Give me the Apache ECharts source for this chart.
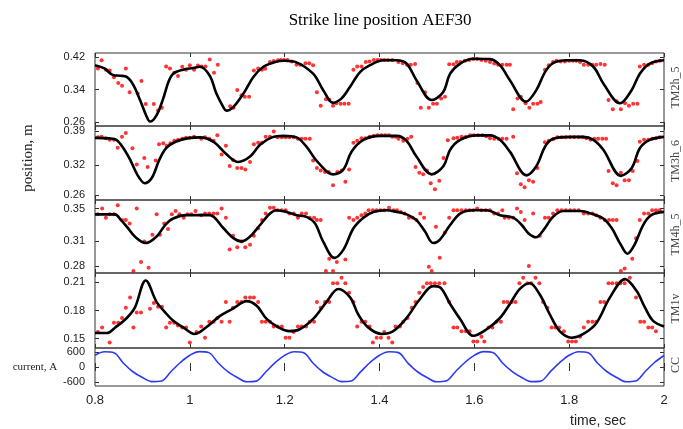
<!DOCTYPE html>
<html>
<head>
<meta charset="utf-8">
<script src="https://cdn.jsdelivr.net/npm/echarts@6/dist/echarts.min.js"></script>
<style>
  html, body { margin: 0; padding: 0; background: #fff; }
  #main { width: 683px; height: 429px; }
</style>
</head>
<body>
<div id="main"></div>
<script>
// ---- data: [time, value] ----
var tm2hFit = [[0.80,0.400],[0.82,0.392],[0.839,0.375],[0.853,0.374],[0.867,0.371],[0.881,0.351],[0.895,0.314],[0.909,0.273],[0.916,0.261],[0.930,0.277],[0.944,0.318],[0.955,0.359],[0.965,0.379],[0.986,0.389],[1.007,0.393],[1.021,0.396],[1.042,0.374],[1.056,0.330],[1.070,0.298],[1.077,0.288],[1.091,0.296],[1.113,0.330],[1.134,0.371],[1.155,0.396],[1.18,0.408],[1.20,0.411],[1.225,0.407],[1.26,0.379],[1.281,0.339],[1.302,0.307],[1.32,0.318],[1.338,0.347],[1.359,0.383],[1.38,0.400],[1.408,0.412],[1.436,0.412],[1.457,0.404],[1.478,0.363],[1.51,0.314],[1.534,0.333],[1.549,0.379],[1.57,0.404],[1.598,0.416],[1.633,0.415],[1.654,0.400],[1.675,0.363],[1.709,0.310],[1.731,0.339],[1.749,0.383],[1.766,0.405],[1.795,0.412],[1.823,0.412],[1.851,0.396],[1.872,0.355],[1.907,0.306],[1.932,0.339],[1.949,0.379],[1.97,0.404],[2.00,0.412]];
var tm2hPts = [[0.806,0.392],[0.814,0.412],[0.823,0.389],[0.831,0.387],[0.840,0.370],[0.849,0.356],[0.857,0.349],[0.865,0.392],[0.873,0.333],[0.890,0.330],[0.898,0.361],[0.907,0.304],[0.924,0.304],[0.933,0.288],[0.941,0.295],[0.950,0.397],[0.958,0.392],[0.967,0.381],[0.975,0.373],[0.984,0.396],[0.992,0.389],[1.000,0.400],[1.009,0.389],[1.017,0.399],[1.025,0.397],[1.033,0.397],[1.042,0.414],[1.051,0.381],[1.059,0.401],[1.085,0.299],[1.092,0.295],[1.100,0.339],[1.109,0.326],[1.116,0.322],[1.125,0.322],[1.135,0.387],[1.144,0.392],[1.152,0.389],[1.159,0.391],[1.169,0.408],[1.177,0.410],[1.186,0.412],[1.192,0.413],[1.199,0.413],[1.206,0.413],[1.215,0.409],[1.225,0.401],[1.233,0.401],[1.244,0.405],[1.252,0.405],[1.260,0.400],[1.268,0.333],[1.276,0.300],[1.287,0.316],[1.294,0.315],[1.302,0.300],[1.309,0.306],[1.318,0.305],[1.326,0.305],[1.335,0.305],[1.345,0.389],[1.353,0.397],[1.362,0.397],[1.371,0.408],[1.379,0.409],[1.388,0.413],[1.396,0.413],[1.403,0.413],[1.410,0.413],[1.418,0.413],[1.427,0.413],[1.440,0.408],[1.449,0.405],[1.458,0.401],[1.466,0.401],[1.475,0.403],[1.480,0.356],[1.487,0.295],[1.496,0.333],[1.504,0.295],[1.513,0.305],[1.521,0.305],[1.530,0.318],[1.538,0.322],[1.547,0.402],[1.556,0.402],[1.563,0.408],[1.571,0.408],[1.580,0.411],[1.589,0.413],[1.598,0.415],[1.606,0.415],[1.615,0.413],[1.624,0.411],[1.633,0.408],[1.642,0.404],[1.650,0.401],[1.659,0.401],[1.668,0.401],[1.675,0.401],[1.682,0.291],[1.691,0.318],[1.698,0.322],[1.708,0.306],[1.716,0.295],[1.724,0.305],[1.733,0.305],[1.740,0.309],[1.749,0.389],[1.757,0.400],[1.766,0.408],[1.773,0.411],[1.782,0.409],[1.791,0.409],[1.800,0.411],[1.808,0.411],[1.815,0.411],[1.823,0.408],[1.831,0.401],[1.840,0.401],[1.849,0.401],[1.857,0.401],[1.866,0.403],[1.875,0.401],[1.883,0.314],[1.892,0.291],[1.900,0.311],[1.909,0.291],[1.918,0.306],[1.926,0.300],[1.935,0.305],[1.944,0.305],[1.949,0.397],[1.958,0.401],[1.967,0.401],[1.975,0.405],[1.983,0.409],[1.991,0.411]];

var tm3hFit = [[0.80,0.376],[0.83,0.375],[0.845,0.372],[0.86,0.355],[0.875,0.330],[0.89,0.300],[0.905,0.284],[0.92,0.295],[0.935,0.330],[0.95,0.355],[0.97,0.368],[1.00,0.376],[1.021,0.377],[1.05,0.368],[1.078,0.342],[1.102,0.327],[1.127,0.338],[1.148,0.362],[1.173,0.377],[1.197,0.380],[1.225,0.377],[1.246,0.358],[1.268,0.329],[1.302,0.302],[1.324,0.312],[1.341,0.348],[1.366,0.372],[1.401,0.380],[1.436,0.380],[1.457,0.370],[1.478,0.338],[1.51,0.302],[1.535,0.319],[1.549,0.352],[1.57,0.372],[1.605,0.381],[1.633,0.381],[1.654,0.372],[1.675,0.348],[1.71,0.300],[1.731,0.319],[1.749,0.358],[1.766,0.374],[1.802,0.378],[1.83,0.378],[1.851,0.372],[1.872,0.352],[1.909,0.299],[1.932,0.315],[1.949,0.355],[1.97,0.372],[2.00,0.378]];
var tm3hPts = [[0.806,0.377],[0.814,0.378],[0.823,0.375],[0.831,0.372],[0.840,0.372],[0.848,0.356],[0.857,0.378],[0.865,0.386],[0.879,0.355],[0.888,0.322],[0.904,0.335],[0.911,0.317],[0.928,0.330],[0.935,0.363],[0.944,0.365],[0.951,0.360],[0.959,0.365],[0.967,0.370],[0.975,0.372],[0.984,0.374],[0.992,0.376],[1.000,0.376],[1.009,0.378],[1.024,0.374],[1.032,0.377],[1.041,0.374],[1.050,0.370],[1.058,0.381],[1.067,0.342],[1.076,0.360],[1.084,0.319],[1.091,0.331],[1.100,0.315],[1.109,0.315],[1.117,0.312],[1.127,0.327],[1.135,0.363],[1.144,0.366],[1.152,0.366],[1.160,0.378],[1.169,0.378],[1.177,0.389],[1.185,0.377],[1.194,0.377],[1.202,0.377],[1.210,0.377],[1.219,0.377],[1.228,0.374],[1.236,0.374],[1.244,0.374],[1.253,0.374],[1.260,0.330],[1.268,0.315],[1.276,0.310],[1.285,0.307],[1.293,0.307],[1.302,0.280],[1.311,0.307],[1.320,0.310],[1.328,0.287],[1.336,0.312],[1.345,0.366],[1.353,0.370],[1.362,0.375],[1.370,0.375],[1.379,0.378],[1.388,0.380],[1.396,0.381],[1.404,0.381],[1.412,0.381],[1.420,0.381],[1.427,0.378],[1.434,0.378],[1.440,0.374],[1.450,0.370],[1.459,0.374],[1.467,0.378],[1.476,0.317],[1.484,0.305],[1.492,0.302],[1.500,0.310],[1.508,0.284],[1.517,0.272],[1.526,0.289],[1.535,0.335],[1.544,0.371],[1.556,0.375],[1.564,0.376],[1.573,0.378],[1.582,0.378],[1.591,0.381],[1.599,0.381],[1.608,0.381],[1.617,0.381],[1.625,0.379],[1.633,0.375],[1.642,0.374],[1.651,0.374],[1.659,0.374],[1.668,0.374],[1.682,0.378],[1.690,0.304],[1.698,0.282],[1.706,0.276],[1.715,0.290],[1.724,0.287],[1.733,0.315],[1.749,0.367],[1.757,0.370],[1.766,0.373],[1.775,0.377],[1.784,0.377],[1.793,0.377],[1.802,0.377],[1.811,0.377],[1.820,0.377],[1.828,0.377],[1.836,0.375],[1.845,0.372],[1.853,0.374],[1.861,0.374],[1.870,0.374],[1.878,0.374],[1.883,0.309],[1.892,0.284],[1.900,0.280],[1.909,0.305],[1.917,0.290],[1.926,0.290],[1.934,0.309],[1.944,0.329],[1.949,0.368],[1.958,0.372],[1.967,0.372],[1.975,0.374],[1.983,0.375],[1.991,0.377]];

var tm4hFit = [[0.80,0.343],[0.842,0.343],[0.855,0.336],[0.867,0.328],[0.884,0.316],[0.907,0.308],[0.93,0.316],[0.948,0.330],[0.965,0.338],[0.993,0.342],[1.021,0.342],[1.042,0.342],[1.071,0.326],[1.092,0.314],[1.109,0.310],[1.127,0.316],[1.148,0.330],[1.169,0.344],[1.183,0.348],[1.204,0.346],[1.225,0.342],[1.246,0.340],[1.264,0.332],[1.281,0.310],[1.305,0.290],[1.324,0.300],[1.345,0.326],[1.366,0.339],[1.387,0.346],[1.415,0.348],[1.436,0.346],[1.457,0.343],[1.478,0.336],[1.496,0.322],[1.513,0.308],[1.527,0.312],[1.549,0.330],[1.57,0.344],[1.598,0.348],[1.626,0.348],[1.654,0.342],[1.682,0.339],[1.70,0.330],[1.714,0.320],[1.73,0.315],[1.746,0.324],[1.766,0.340],[1.788,0.347],[1.823,0.347],[1.851,0.343],[1.872,0.338],[1.89,0.326],[1.907,0.308],[1.923,0.295],[1.938,0.306],[1.956,0.330],[1.973,0.342],[2.00,0.346]];
var tm4hPts = [[0.806,0.343],[0.815,0.350],[0.823,0.339],[0.831,0.343],[0.840,0.343],[0.848,0.354],[0.857,0.336],[0.865,0.336],[0.873,0.332],[0.881,0.274],[0.888,0.350],[0.897,0.285],[0.904,0.310],[0.913,0.278],[0.921,0.318],[0.930,0.343],[0.937,0.318],[0.946,0.332],[0.954,0.325],[0.962,0.343],[0.970,0.347],[0.978,0.343],[0.987,0.339],[0.995,0.343],[1.003,0.343],[1.012,0.347],[1.024,0.342],[1.032,0.344],[1.041,0.344],[1.050,0.344],[1.058,0.344],[1.067,0.350],[1.076,0.339],[1.084,0.300],[1.091,0.317],[1.100,0.303],[1.109,0.310],[1.117,0.303],[1.127,0.306],[1.135,0.317],[1.144,0.326],[1.152,0.336],[1.160,0.344],[1.169,0.351],[1.177,0.351],[1.185,0.348],[1.194,0.348],[1.202,0.348],[1.210,0.344],[1.219,0.344],[1.228,0.339],[1.236,0.344],[1.245,0.344],[1.253,0.339],[1.262,0.339],[1.268,0.336],[1.276,0.336],[1.287,0.274],[1.294,0.289],[1.302,0.274],[1.310,0.285],[1.328,0.288],[1.336,0.339],[1.345,0.336],[1.353,0.339],[1.362,0.342],[1.370,0.344],[1.377,0.348],[1.386,0.348],[1.394,0.348],[1.402,0.348],[1.410,0.348],[1.420,0.351],[1.430,0.348],[1.437,0.348],[1.445,0.346],[1.453,0.344],[1.462,0.339],[1.470,0.339],[1.478,0.336],[1.486,0.344],[1.494,0.339],[1.504,0.279],[1.510,0.274],[1.519,0.328],[1.527,0.290],[1.538,0.321],[1.547,0.339],[1.556,0.348],[1.564,0.348],[1.573,0.348],[1.582,0.348],[1.590,0.348],[1.598,0.348],[1.606,0.350],[1.615,0.348],[1.624,0.348],[1.633,0.348],[1.642,0.344],[1.650,0.344],[1.659,0.348],[1.664,0.339],[1.673,0.339],[1.682,0.339],[1.690,0.350],[1.698,0.346],[1.706,0.336],[1.715,0.280],[1.724,0.344],[1.738,0.317],[1.749,0.339],[1.757,0.339],[1.766,0.344],[1.775,0.348],[1.784,0.348],[1.793,0.348],[1.802,0.348],[1.811,0.348],[1.820,0.348],[1.831,0.344],[1.840,0.344],[1.849,0.344],[1.857,0.342],[1.866,0.339],[1.875,0.336],[1.884,0.336],[1.892,0.336],[1.900,0.336],[1.909,0.274],[1.917,0.277],[1.933,0.289],[1.941,0.314],[1.949,0.336],[1.958,0.344],[1.967,0.344],[1.975,0.348],[1.983,0.348],[1.991,0.348]];

var tm1vFit = [[0.80,0.156],[0.825,0.156],[0.843,0.162],[0.867,0.172],[0.884,0.183],[0.907,0.212],[0.93,0.189],[0.948,0.178],[0.965,0.169],[0.986,0.162],[1.01,0.155],[1.021,0.157],[1.042,0.165],[1.063,0.174],[1.091,0.182],[1.12,0.190],[1.141,0.185],[1.162,0.171],[1.187,0.162],[1.21,0.158],[1.232,0.160],[1.26,0.171],[1.288,0.189],[1.313,0.203],[1.338,0.194],[1.355,0.176],[1.376,0.162],[1.405,0.155],[1.429,0.158],[1.457,0.172],[1.485,0.192],[1.513,0.206],[1.527,0.205],[1.549,0.187],[1.57,0.171],[1.598,0.153],[1.626,0.160],[1.654,0.172],[1.675,0.187],[1.696,0.203],[1.717,0.209],[1.738,0.197],[1.759,0.176],[1.78,0.158],[1.805,0.151],[1.83,0.155],[1.858,0.167],[1.886,0.194],[1.918,0.2135],[1.942,0.201],[1.96,0.183],[1.977,0.169],[2.00,0.163]];
var tm1vPts = [[0.806,0.157],[0.815,0.162],[0.831,0.146],[0.840,0.167],[0.849,0.167],[0.857,0.172],[0.865,0.183],[0.874,0.194],[0.881,0.162],[0.888,0.178],[0.897,0.178],[0.916,0.182],[0.924,0.188],[0.933,0.184],[0.941,0.184],[0.950,0.162],[0.958,0.167],[0.967,0.167],[0.975,0.164],[0.984,0.162],[0.992,0.162],[1.000,0.146],[1.014,0.157],[1.024,0.163],[1.032,0.151],[1.041,0.168],[1.050,0.168],[1.058,0.172],[1.067,0.168],[1.076,0.189],[1.084,0.168],[1.091,0.183],[1.100,0.189],[1.109,0.189],[1.117,0.194],[1.127,0.194],[1.135,0.194],[1.144,0.189],[1.152,0.168],[1.160,0.168],[1.169,0.168],[1.177,0.163],[1.185,0.163],[1.194,0.163],[1.202,0.151],[1.210,0.151],[1.219,0.157],[1.228,0.163],[1.236,0.163],[1.245,0.163],[1.253,0.168],[1.262,0.168],[1.268,0.189],[1.276,0.183],[1.285,0.189],[1.294,0.189],[1.302,0.209],[1.311,0.209],[1.320,0.215],[1.328,0.209],[1.336,0.199],[1.345,0.189],[1.353,0.163],[1.362,0.168],[1.370,0.168],[1.379,0.163],[1.386,0.146],[1.394,0.151],[1.403,0.151],[1.410,0.157],[1.419,0.151],[1.427,0.146],[1.434,0.163],[1.443,0.163],[1.450,0.168],[1.459,0.172],[1.468,0.183],[1.476,0.189],[1.484,0.199],[1.492,0.205],[1.500,0.209],[1.508,0.209],[1.517,0.209],[1.526,0.209],[1.537,0.209],[1.547,0.189],[1.556,0.162],[1.564,0.162],[1.573,0.158],[1.582,0.158],[1.590,0.158],[1.598,0.147],[1.606,0.147],[1.615,0.152],[1.621,0.147],[1.630,0.162],[1.638,0.162],[1.647,0.168],[1.656,0.168],[1.662,0.189],[1.670,0.189],[1.679,0.189],[1.687,0.189],[1.695,0.209],[1.703,0.215],[1.712,0.209],[1.720,0.209],[1.729,0.215],[1.737,0.209],[1.745,0.189],[1.754,0.183],[1.763,0.162],[1.771,0.162],[1.779,0.162],[1.789,0.158],[1.798,0.147],[1.806,0.147],[1.814,0.147],[1.823,0.152],[1.831,0.162],[1.840,0.168],[1.849,0.168],[1.857,0.168],[1.866,0.189],[1.874,0.189],[1.883,0.209],[1.891,0.209],[1.900,0.209],[1.908,0.209],[1.917,0.209],[1.928,0.215],[1.941,0.194],[1.950,0.168],[1.958,0.168],[1.967,0.162],[1.975,0.162],[1.983,0.158]];

// coil current, sampled every 0.02 s from 0.80 to 2.00
var ccTime = [];
for (var k = 0; k <= 60; k++) ccTime.push(+(0.8 + k * 0.02).toFixed(2));
var ccValues = [
  470, 610, 570, 150, -190, -420, -585, -560, -190, 180,
  470, 615, 575, 160, -185, -420, -590, -565, -200, 175,
  465, 610, 570, 150, -190, -415, -585, -560, -195, 180,
  470, 610, 575, 155, -190, -420, -590, -560, -190, 180,
  465, 615, 570, 150, -185, -420, -585, -565, -195, 175,
  470, 610, 570, 150, -190, -420, -590, -560, -190, 180,
  460
];

var panelNames = ['TM2h_5', 'TM3h_6', 'TM4h_5', 'TM1v', 'CC'];
var yMins = [0.25, 0.25, 0.2715, 0.14, -760];
var yMaxs = [0.43, 0.40, 0.3605, 0.22, 760];
var yTicks = [[0.26, 0.34, 0.42], [0.26, 0.32, 0.39], [0.28, 0.31, 0.35], [0.15, 0.18, 0.21], [-600, 0, 600]];

// ---- layout ----
var panelTop = [53, 126, 200, 273, 348];
var panelHeight = [73, 74, 73, 75, 38];
var plotLeft = 95, plotRight = 19;

var chart = echarts.init(document.getElementById('main'));

var sansFont = 'Liberation Sans, Arial, sans-serif';
var serifFont = 'Liberation Serif, Times New Roman, serif';
var inkColor = '#333';

var grids = [], xAxes = [], yAxes = [], series = [], graphics = [];

function makeX(i, pos, showLabel) {
  return {
    type: 'value', gridIndex: i, position: pos,
    min: 0.8, max: 2, interval: 0.2,
    axisLine: { show: false },
    axisTick: { inside: true, length: 4, lineStyle: { color: inkColor } },
    axisLabel: { show: showLabel, color: '#222', fontSize: 13, fontFamily: sansFont, margin: 8 },
    splitLine: { show: false }
  };
}

function makeY(i, pos, showLabel) {
  return {
    type: 'value', gridIndex: i, position: pos,
    min: yMins[i], max: yMaxs[i],
    axisLine: { show: false },
    axisTick: { inside: true, length: 4, customValues: yTicks[i], lineStyle: { color: inkColor } },
    axisLabel: { show: showLabel, customValues: yTicks[i], color: '#222', fontSize: 11, fontFamily: sansFont, margin: 10 },
    splitLine: { show: false }
  };
}

for (var i = 0; i < panelNames.length; i++) {
  grids.push({
    left: plotLeft, right: plotRight, top: panelTop[i], height: panelHeight[i],
    show: true, borderColor: inkColor, borderWidth: 1
  });
  xAxes.push(makeX(i, 'bottom', i === panelNames.length - 1));
  xAxes.push(makeX(i, 'top', false));
  yAxes.push(makeY(i, 'left', true));
  yAxes.push(makeY(i, 'right', false));

  // panel name on the right, reading upwards
  graphics.push({
    type: 'text', x: 676, y: panelTop[i] + panelHeight[i] / 2 - 2, rotation: Math.PI / 2,
    style: { text: panelNames[i], fill: '#444', font: '12px ' + serifFont, textAlign: 'center', textVerticalAlign: 'middle' }
  });
}

var fits = [tm2hFit, tm3hFit, tm4hFit, tm1vFit];
var pts = [tm2hPts, tm3hPts, tm4hPts, tm1vPts];
for (var j = 0; j < 4; j++) {
  series.push({
    type: 'line', xAxisIndex: 2 * j, yAxisIndex: 2 * j,
    data: fits[j], symbol: 'none', smooth: 0.35,
    lineStyle: { color: '#000', width: 2.6 }
  });
  series.push({
    type: 'scatter', xAxisIndex: 2 * j, yAxisIndex: 2 * j,
    data: pts[j], symbolSize: 4,
    itemStyle: { color: '#ff0000' }
  });
}
series.push({
  type: 'line', xAxisIndex: 8, yAxisIndex: 8,
  data: ccTime.map(function (t, n) { return [t, ccValues[n]]; }),
  symbol: 'none', smooth: 0.35,
  lineStyle: { color: '#2b3bf5', width: 1.6 }
});

graphics.push(
  {
    type: 'text', x: 380, y: 21,
    style: { text: 'Strike line position AEF30', fill: '#000', font: '17px ' + serifFont, textAlign: 'center', textVerticalAlign: 'middle' }
  },
  {
    type: 'text', x: 28, y: 158, rotation: Math.PI / 2,
    style: { text: 'position, m', fill: '#222', font: '15px ' + serifFont, textAlign: 'center', textVerticalAlign: 'middle' }
  },
  {
    type: 'text', x: 35, y: 367,
    style: { text: 'current, A', fill: '#222', font: '11px ' + serifFont, textAlign: 'center', textVerticalAlign: 'middle' }
  },
  {
    type: 'text', x: 598, y: 421,
    style: { text: 'time, sec', fill: '#222', font: '14px ' + sansFont, textAlign: 'center', textVerticalAlign: 'middle' }
  }
);

chart.setOption({
  animation: false,
  backgroundColor: '#fff',
  grid: grids,
  xAxis: xAxes,
  yAxis: yAxes,
  series: series,
  graphic: graphics
});
</script>
</body>
</html>
